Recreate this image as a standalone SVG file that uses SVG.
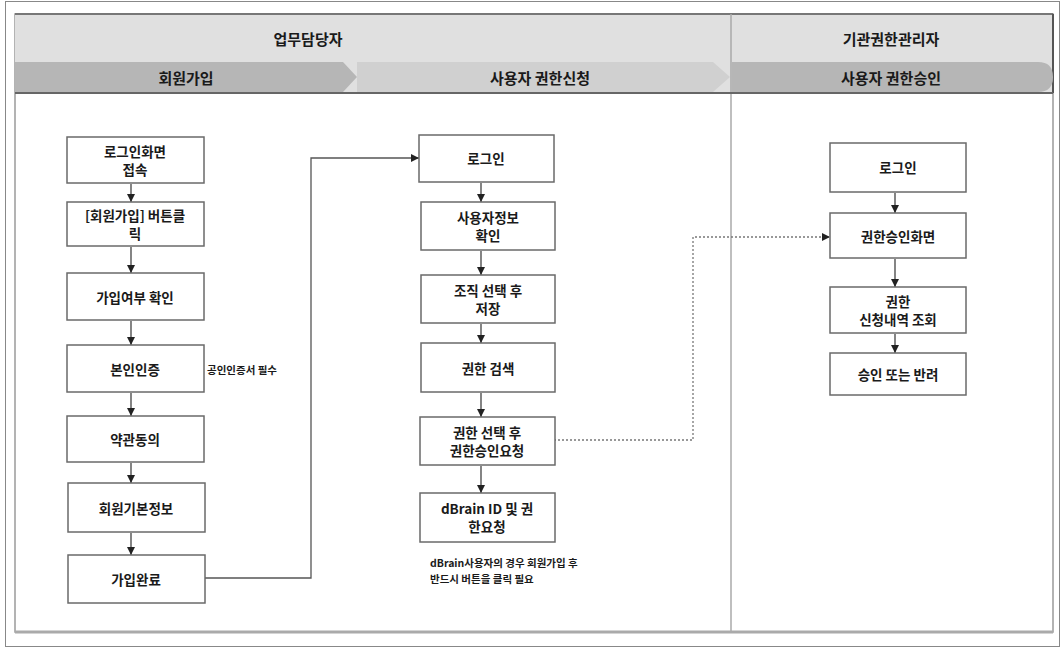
<svg xmlns="http://www.w3.org/2000/svg" width="1062" height="648" viewBox="0 0 1062 648">
<defs>
<style>
.t{font-family:"Noto Sans CJK KR","Noto Sans",sans-serif;font-weight:700;fill:#1a1a1a;text-anchor:middle;dominant-baseline:central}
.h{font-size:15px}
.b{font-size:13.5px}
.n{font-family:"Noto Sans CJK KR","Noto Sans",sans-serif;font-weight:700;fill:#1a1a1a;font-size:10.5px;dominant-baseline:central}
.box{fill:#fff;stroke:#6a6a6a;stroke-width:1.5}
.arr{stroke:#333;stroke-width:1.2;fill:none;marker-end:url(#ah)}
.link{stroke:#555;stroke-width:1.3;fill:none;marker-end:url(#ah)}
.dot{stroke:#777;stroke-width:1.3;fill:none;stroke-dasharray:2 2;marker-end:url(#ah)}
</style>
<marker id="ah" viewBox="0 0 10 10" refX="10" refY="5" markerWidth="8" markerHeight="8" markerUnits="userSpaceOnUse" orient="auto">
<path d="M0,0 L10,5 L0,10 z" fill="#222"/>
</marker>
</defs>
<rect x="0" y="0" width="1062" height="648" fill="#fff"/>
<rect x="5.5" y="1.5" width="1054" height="645" fill="none" stroke="#888" stroke-width="1"/>
<g id="panel">
<rect x="15" y="14" width="1038" height="618" fill="#fff" stroke="#9a9a9a" stroke-width="1.5"/>
<rect x="15" y="14" width="1038" height="79" fill="#e0e0e0"/>
<line x1="15" y1="14" x2="1053" y2="14" stroke="#777" stroke-width="2"/>
<line x1="15" y1="632" x2="1053" y2="632" stroke="#aaa" stroke-width="3"/>
<line x1="1053" y1="14" x2="1053" y2="93" stroke="#555" stroke-width="2"/>
<line x1="731" y1="14" x2="731" y2="632" stroke="#aaa" stroke-width="1.5"/>
<polygon points="357,62 713,62 730,77 713,92 357,92" fill="#d0d0d0"/>
<polygon points="15,62 343,62 357,77 343,92 15,92" fill="#b6b6b6"/>
<path d="M732,62 L1038,62 Q1053,62 1053,77 Q1053,92 1038,92 L732,92 Z" fill="#b6b6b6"/>
<line x1="15" y1="93" x2="1053" y2="93" stroke="#666" stroke-width="2"/>
<text class="t h" x="308" y="38">업무담당자</text>
<text class="t h" x="891" y="38">기관권한관리자</text>
<text class="t h" x="186" y="77">회원가입</text>
<text class="t h" x="540" y="77">사용자 권한신청</text>
<text class="t h" x="891" y="77">사용자 권한승인</text>
</g>
<g id="connectors">
<line class="arr" x1="131" y1="184" x2="131" y2="202"/>
<line class="arr" x1="131" y1="247" x2="131" y2="273"/>
<line class="arr" x1="131" y1="321" x2="131" y2="345"/>
<line class="arr" x1="131" y1="393" x2="131" y2="416"/>
<line class="arr" x1="131" y1="463" x2="131" y2="483"/>
<line class="arr" x1="131" y1="533" x2="131" y2="555"/>
<line class="arr" x1="481" y1="183" x2="481" y2="202"/>
<line class="arr" x1="481" y1="251" x2="481" y2="275"/>
<line class="arr" x1="481" y1="324" x2="481" y2="343"/>
<line class="arr" x1="481" y1="393" x2="481" y2="417"/>
<line class="arr" x1="481" y1="466" x2="481" y2="493"/>
<line class="arr" x1="895" y1="193" x2="895" y2="213"/>
<line class="arr" x1="895" y1="259" x2="895" y2="287"/>
<line class="arr" x1="895" y1="334" x2="895" y2="353"/>
<polyline class="link" points="204,578 311,578 311,158 419,158"/>
<polyline class="dot" points="554,440 693,440 693,237 830,237"/>
</g>
<g id="n-login-screen"><rect class="box" x="67" y="137" width="137" height="46"/><text class="t b" x="135" y="151">로그인화면</text><text class="t b" x="135" y="169">접속</text></g>
<g id="n-join-button"><rect class="box" x="67" y="202" width="137" height="44"/><text class="t b" x="135" y="215">[회원가입] 버튼클</text><text class="t b" x="135" y="233">릭</text></g>
<g id="n-join-check"><rect class="box" x="67" y="273" width="137" height="47"/><text class="t b" x="135" y="297">가입여부 확인</text></g>
<g id="n-auth"><rect class="box" x="67" y="345" width="137" height="47"/><text class="t b" x="135" y="369">본인인증</text></g>
<g id="n-auth-note"><text class="n" x="207" y="369">공인인증서 필수</text></g>
<g id="n-terms"><rect class="box" x="67" y="416" width="137" height="46"/><text class="t b" x="135" y="439">약관동의</text></g>
<g id="n-basic-info"><rect class="box" x="68" y="483" width="137" height="49"/><text class="t b" x="136" y="508">회원기본정보</text></g>
<g id="n-join-done"><rect class="box" x="68" y="555" width="137" height="48"/><text class="t b" x="136" y="579">가입완료</text></g>
<g id="n-login"><rect class="box" x="419" y="135" width="135" height="47"/><text class="t b" x="486" y="158">로그인</text></g>
<g id="n-user-info"><rect class="box" x="421" y="202" width="134" height="48"/><text class="t b" x="488" y="217">사용자정보</text><text class="t b" x="488" y="235">확인</text></g>
<g id="n-org"><rect class="box" x="421" y="275" width="134" height="48"/><text class="t b" x="488" y="290">조직 선택 후</text><text class="t b" x="488" y="308">저장</text></g>
<g id="n-search"><rect class="box" x="421" y="343" width="134" height="49"/><text class="t b" x="488" y="368">권한 검색</text></g>
<g id="n-request"><rect class="box" x="420" y="417" width="135" height="48"/><text class="t b" x="487" y="432">권한 선택 후</text><text class="t b" x="487" y="450">권한승인요청</text></g>
<g id="n-dbrain"><rect class="box" x="420" y="493" width="135" height="49"/><text class="t b" x="487" y="508">dBrain ID 및 권</text><text class="t b" x="487" y="526">한요청</text></g>
<g id="n-dbrain-note"><text class="n" x="430" y="562">dBrain사용자의 경우 회원가입 후</text><text class="n" x="430" y="578">반드시 버튼을 클릭 필요</text></g>
<g id="n-admin-login"><rect class="box" x="830" y="143" width="136" height="49"/><text class="t b" x="898" y="167">로그인</text></g>
<g id="n-approve-screen"><rect class="box" x="830" y="213" width="136" height="45"/><text class="t b" x="898" y="236">권한승인화면</text></g>
<g id="n-history"><rect class="box" x="830" y="287" width="136" height="46"/><text class="t b" x="898" y="301">권한</text><text class="t b" x="898" y="319">신청내역 조회</text></g>
<g id="n-decision"><rect class="box" x="830" y="353" width="136" height="42"/><text class="t b" x="898" y="374">승인 또는 반려</text></g>
</svg>
